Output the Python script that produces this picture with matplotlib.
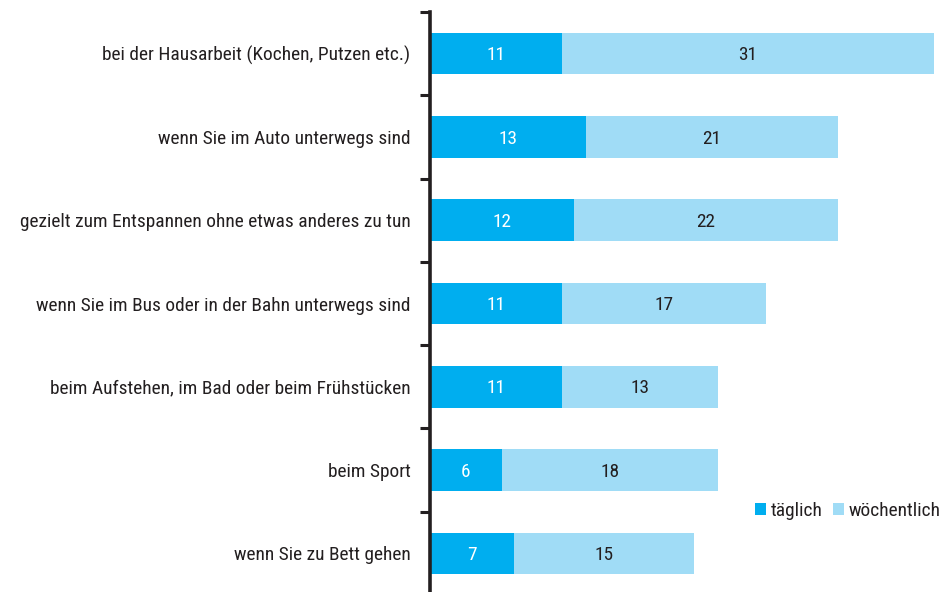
import matplotlib
matplotlib.use("Agg")
import matplotlib.pyplot as plt
from matplotlib import font_manager as fm
import numpy as np

categories = [
    "bei der Hausarbeit (Kochen, Putzen etc.)",
    "wenn Sie im Auto unterwegs sind",
    "gezielt zum Entspannen ohne etwas anderes zu tun",
    "wenn Sie im Bus oder in der Bahn unterwegs sind",
    "beim Aufstehen, im Bad oder beim Frühstücken",
    "beim Sport",
    "wenn Sie zu Bett gehen",
]
taeglich = [11, 13, 12, 11, 11, 6, 7]
woechentlich = [31, 21, 22, 17, 13, 18, 15]
series_names = ["täglich", "wöchentlich"]

names = {f.name for f in fm.fontManager.ttflist}
candidates = ["Liberation Sans Narrow", "Roboto Condensed", "Archivo Narrow",
              "PT Sans Narrow", "Asap Condensed", "Barlow Semi Condensed"]
fam = next((c for c in candidates if c in names), "Liberation Sans")
plt.rcParams["font.family"] = [fam, "DejaVu Sans"]

c_dark = "#00AEEF"
c_light = "#A0DCF6"
txt = "#231F20"

fig = plt.figure(figsize=(9.43, 5.92), dpi=100)

# scale the font so the first label is about as wide as in the reference (~310 px)
r = fig.canvas.get_renderer()
probe = fig.text(0, 0, categories[0], fontsize=14)
w = probe.get_window_extent(renderer=r).width
probe.remove()
fsz = 14 * 310 / w

ax = fig.add_axes([430/943, -3/592, 513/943, 583/592])

y = np.arange(len(categories))
ax.barh(y, taeglich, height=0.5, color=c_dark, label=series_names[0])
ax.barh(y, woechentlich, left=taeglich, height=0.5, color=c_light, label=series_names[1])

for i in range(len(categories)):
    ax.text(taeglich[i] / 2, y[i] + 0.02, str(taeglich[i]), ha="center", va="center",
            color="white", fontsize=fsz)
    ax.text(taeglich[i] + woechentlich[i] / 2, y[i] + 0.02, str(woechentlich[i]),
            ha="center", va="center", color=txt, fontsize=fsz)

ax.set_ylim(len(categories) - 0.5, -0.5)
ax.set_xlim(0, 42.75)
ax.set_yticks(y)
ax.set_yticklabels(categories, fontsize=fsz, color=txt)
ax.tick_params(axis="y", which="major", length=0, pad=14)
ax.set_yticks(np.arange(-0.5, len(categories) + 0.5, 1), minor=True)
ax.tick_params(axis="y", which="minor", length=7, width=2.2, color=txt, direction="out")
ax.set_xticks([])
for s in ["top", "right", "bottom"]:
    ax.spines[s].set_visible(False)
ax.spines["left"].set_linewidth(2.6)
ax.spines["left"].set_color(txt)

leg = fig.legend(loc="lower right", bbox_to_anchor=(1.0, 70/592), ncol=2, frameon=False,
                 fontsize=fsz, handlelength=0.6, handleheight=0.6, handletextpad=0.25,
                 columnspacing=0.5, borderaxespad=0, borderpad=0.1)
for t in leg.get_texts():
    t.set_color(txt)

fig.savefig("out.png", dpi=100, facecolor="white")
